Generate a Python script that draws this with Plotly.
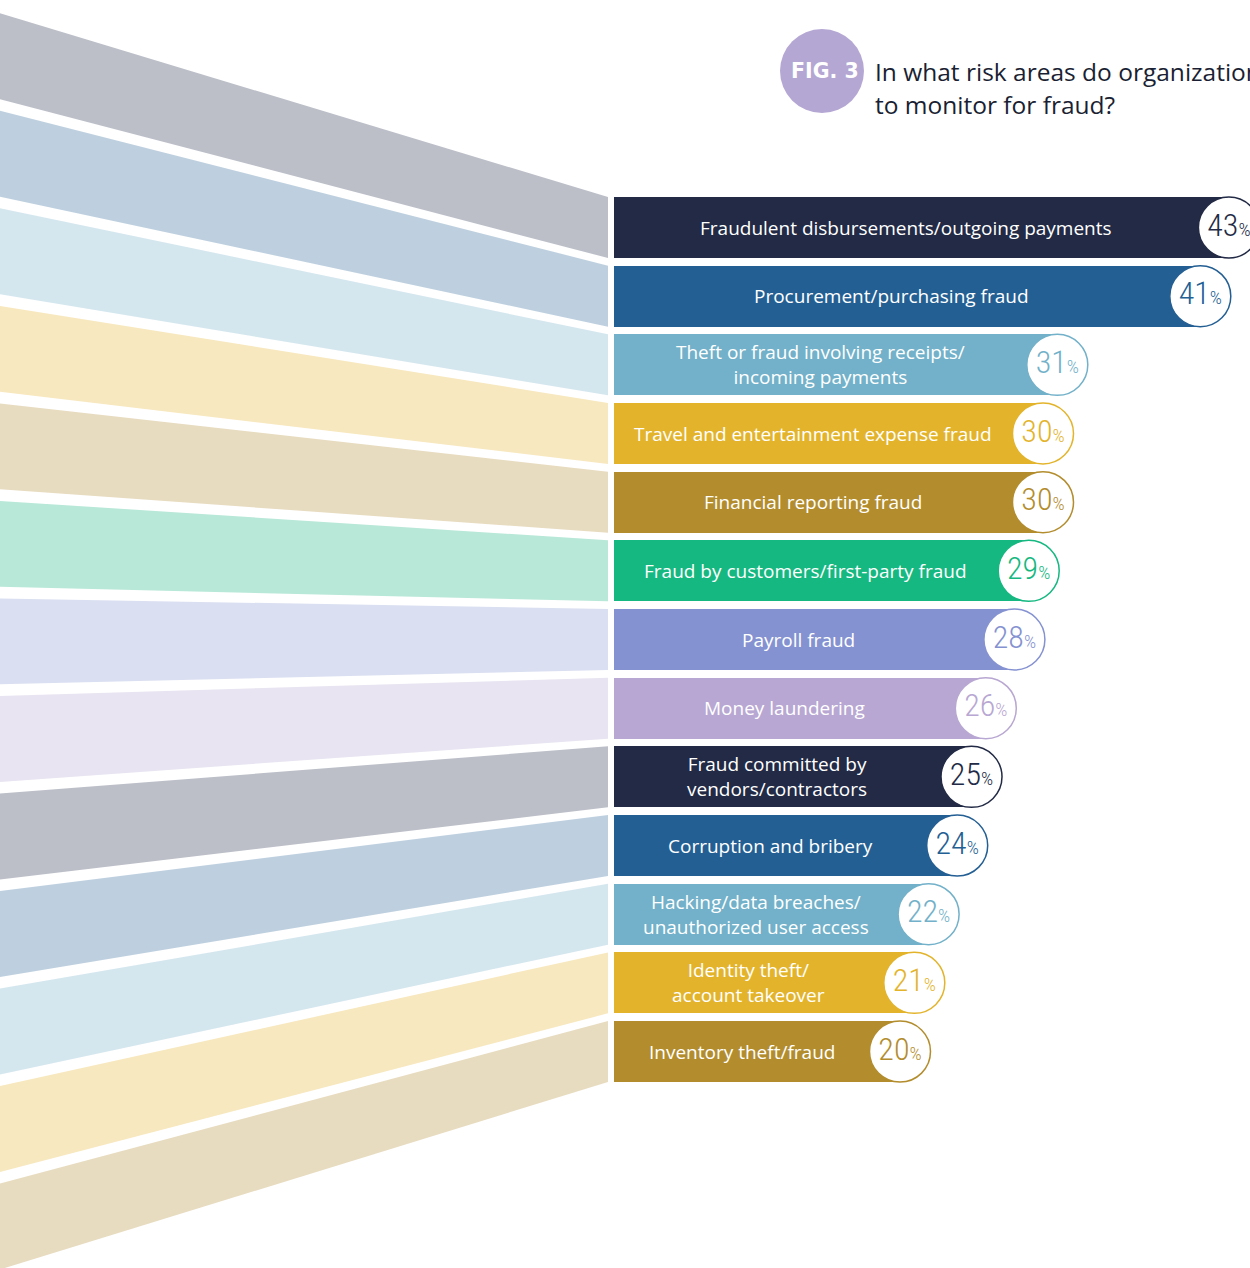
import plotly.graph_objects as go

# ---------------- data ----------------
categories = [
    "Fraudulent disbursements/outgoing payments",
    "Procurement/purchasing fraud",
    "Theft or fraud involving receipts/<br>incoming payments",
    "Travel and entertainment expense fraud",
    "Financial reporting fraud",
    "Fraud by customers/first-party fraud",
    "Payroll fraud",
    "Money laundering",
    "Fraud committed by<br>vendors/contractors",
    "Corruption and bribery",
    "Hacking/data breaches/<br>unauthorized user access",
    "Identity theft/<br>account takeover",
    "Inventory theft/fraud",
]
values = [43, 41, 31, 30, 30, 29, 28, 26, 25, 24, 22, 21, 20]
bar_colors = ["#222a45", "#245f94", "#72b1c9", "#e3b42b", "#b38d2d", "#15b880",
              "#8592d1", "#b8a7d2", "#222a45", "#245f94", "#72b1c9", "#e3b42b", "#b38d2d"]
fan_colors = ["#bcbfc8", "#bed0df", "#d5e7ee", "#f7e8bf", "#e8dcc0", "#b8e8d8",
              "#dadff1", "#e8e4f1", "#bcbfc8", "#bed0df", "#d5e7ee", "#f7e8bf", "#e8dcc0"]
title_line1 = "In what risk areas do organizations use data analytics"
title_line2 = "to monitor for fraud?"
fig_label = "FIG. 3"

# ---------------- layout geometry ----------------
W, H = 1250, 1268
PX_PER_PCT = 14.3
X0_PX = 614
ROW_PX = 68.67
ROW0_PX = 227.5
BAR_W = 0.888
x_range = [-X0_PX / PX_PER_PCT, (W - X0_PX) / PX_PER_PCT]
y_range = [(H - ROW0_PX) / ROW_PX, -ROW0_PX / ROW_PX]
idx = list(range(len(values)))

def py_to_y(p):
    return (p - ROW0_PX) / ROW_PX

FAN_TOP0, FAN_PITCH, FAN_BAND = 9.0, 98.2, 86.5
fan_right = -6 / PX_PER_PCT
fan_left = x_range[0] - 1

shapes = []
for i in idx:
    lt = py_to_y(FAN_TOP0 + FAN_PITCH * i)
    lb = py_to_y(FAN_TOP0 + FAN_PITCH * i + FAN_BAND)
    rt = i - BAR_W / 2
    rb = i + BAR_W / 2
    shapes.append(dict(type="path", xref="x", yref="y",
                       path=f"M {fan_left},{lt} L {fan_right},{rt} L {fan_right},{rb} L {fan_left},{lb} Z",
                       fillcolor=fan_colors[i], line=dict(width=0), layer="below"))

# FIG circle
cx, cy, r = 822, 71, 42
shapes.append(dict(type="circle", xref="paper", yref="paper",
                   x0=(cx - r) / W, x1=(cx + r) / W, y0=1 - (cy + r) / H, y1=1 - (cy - r) / H,
                   fillcolor="#b5a7d3", line=dict(width=0)))

fig = go.Figure()
fig.add_trace(go.Bar(
    x=values, y=idx, orientation="h", width=BAR_W,
    marker=dict(color=bar_colors, line=dict(width=0)),
    hoverinfo="skip", showlegend=False,
))

PCT_FONT = "Roboto Condensed, Noto Sans Condensed, DejaVu Sans Condensed, Liberation Sans Narrow, Arial Narrow, Roboto, sans-serif"
pct_text = [f"{v}<span style='font-size:19px'>%</span>" for v in values]
fig.add_trace(go.Scatter(
    x=values, y=idx, mode="markers+text",
    marker=dict(size=61, color="white", line=dict(color=bar_colors, width=1.5)),
    text=pct_text, textposition="middle center",
    textfont=dict(color=bar_colors, size=32, family=PCT_FONT, weight=300),
    hoverinfo="skip", showlegend=False, cliponaxis=False,
))

annotations = []
CIRCLE_R_PCT = 31 / PX_PER_PCT
LABEL_SIZE = 19
for i, (cat, v) in enumerate(zip(categories, values)):
    annotations.append(dict(
        x=(v - CIRCLE_R_PCT) / 2, y=i, xref="x", yref="y", text=cat, showarrow=False,
        xanchor="center", yanchor="middle", align="center",
        font=dict(color="white", size=LABEL_SIZE, family="Open Sans, sans-serif"),
    ))

annotations.append(dict(x=(cx + 3) / W, y=1 - cy / H, xref="paper", yref="paper", text=f"<b>{fig_label}</b>",
                        showarrow=False, xanchor="center", yanchor="middle",
                        font=dict(color="white", size=20.5, family="DejaVu Sans, sans-serif")))
annotations.append(dict(x=873 / W, y=1 - 72 / H, xref="paper", yref="paper", text=title_line1,
                        showarrow=False, xanchor="left", yanchor="middle",
                        font=dict(color="#1a1f33", size=24.5, family="Open Sans, sans-serif")))
annotations.append(dict(x=873 / W, y=1 - 104 / H, xref="paper", yref="paper", text=title_line2,
                        showarrow=False, xanchor="left", yanchor="middle",
                        font=dict(color="#1a1f33", size=24.5, family="Open Sans, sans-serif")))

fig.update_layout(
    width=W, height=H, margin=dict(l=0, r=0, t=0, b=0),
    paper_bgcolor="white", plot_bgcolor="white",
    xaxis=dict(range=x_range, visible=False, fixedrange=True),
    yaxis=dict(range=y_range, visible=False, fixedrange=True),
    shapes=shapes, annotations=annotations, showlegend=False,
    bargap=0,
)
fig.write_html("out.html", config={"displayModeBar": False},
               post_script="document.body.style.margin='0px';document.body.style.overflow='hidden';")
